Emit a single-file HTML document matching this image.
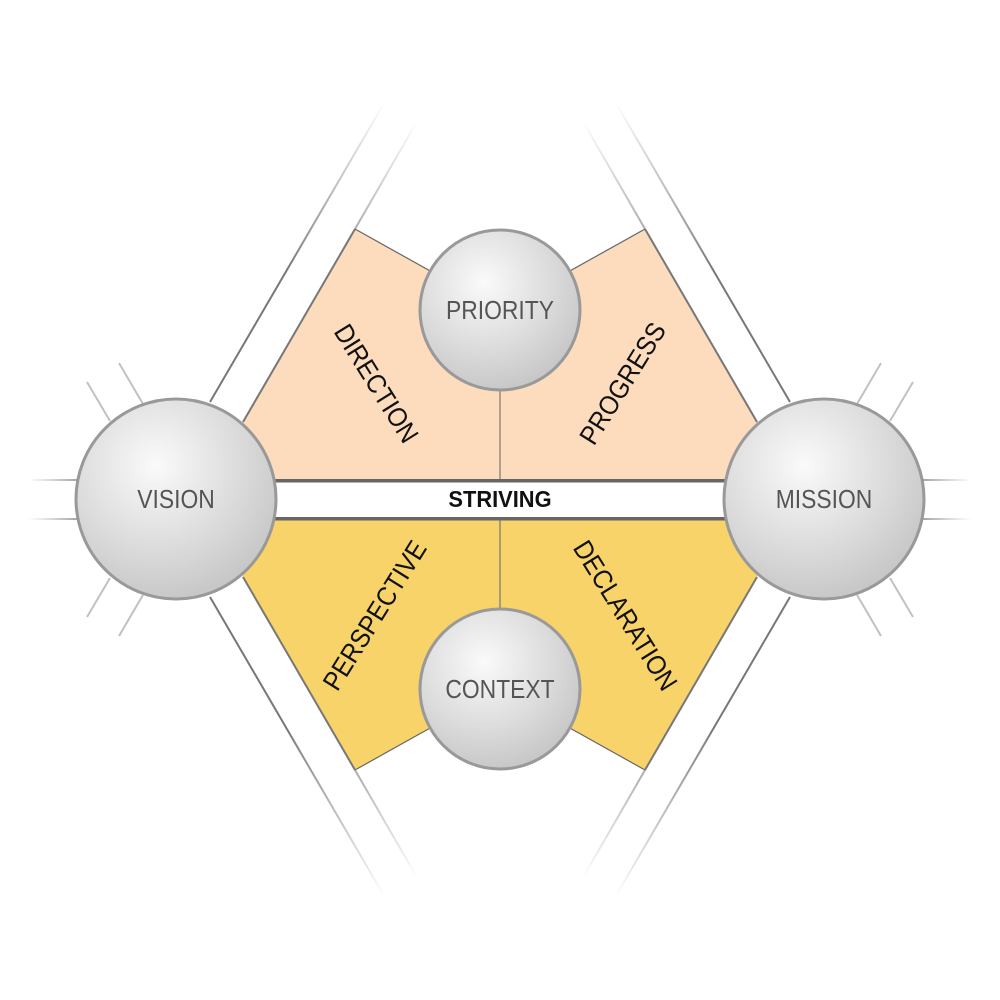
<!DOCTYPE html>
<html><head><meta charset="utf-8"><style>
html,body{margin:0;padding:0;background:#fff;}
svg{display:block}
text{font-family:"Liberation Sans",sans-serif;}
</style></head><body>
<svg width="1000" height="1000" viewBox="0 0 1000 1000" xmlns="http://www.w3.org/2000/svg">
<defs>
<radialGradient id="sph" cx="0.4" cy="0.33" r="0.75">
<stop offset="0" stop-color="#fafafa"/>
<stop offset="0.55" stop-color="#dcdcdc"/>
<stop offset="1" stop-color="#c2c2c2"/>
</radialGradient>
<linearGradient id="fadeTL" gradientUnits="userSpaceOnUse" x1="400" y1="110" x2="300" y2="280">
<stop offset="0" stop-color="#888" stop-opacity="0"/><stop offset="1" stop-color="#777"/></linearGradient>
<linearGradient id="fadeTR" gradientUnits="userSpaceOnUse" x1="600" y1="110" x2="700" y2="280">
<stop offset="0" stop-color="#888" stop-opacity="0"/><stop offset="1" stop-color="#777"/></linearGradient>
<linearGradient id="fadeBL" gradientUnits="userSpaceOnUse" x1="400" y1="890" x2="300" y2="720">
<stop offset="0" stop-color="#888" stop-opacity="0"/><stop offset="1" stop-color="#777"/></linearGradient>
<linearGradient id="fadeBR" gradientUnits="userSpaceOnUse" x1="600" y1="890" x2="700" y2="720">
<stop offset="0" stop-color="#888" stop-opacity="0"/><stop offset="1" stop-color="#777"/></linearGradient>
<linearGradient id="hl" gradientUnits="userSpaceOnUse" x1="28" y1="0" x2="78" y2="0">
<stop offset="0" stop-color="#aaa" stop-opacity="0"/><stop offset="1" stop-color="#999"/></linearGradient>
<linearGradient id="hr" gradientUnits="userSpaceOnUse" x1="972" y1="0" x2="922" y2="0">
<stop offset="0" stop-color="#aaa" stop-opacity="0"/><stop offset="1" stop-color="#999"/></linearGradient>
</defs>

<polygon points="355,229 430,270 500,300 570,270 645,229 757,420 757,481 243,481 243,420" fill="#FCDCBC"/>
<polygon points="355,770 430,728 500,700 570,728 645,770 757,578 757,518 243,518 243,578" fill="#F7D36A"/>

<g stroke="#666" stroke-width="1.2" fill="none">
<line x1="355" y1="229" x2="432" y2="272"/>
<line x1="645" y1="229" x2="568" y2="272"/>
<line x1="355" y1="770" x2="432" y2="727"/>
<line x1="645" y1="770" x2="568" y2="727"/>
</g>
<g stroke="#777" stroke-width="1.2">
<line x1="500" y1="390" x2="500" y2="481"/>
<line x1="500" y1="518" x2="500" y2="608"/>
</g>

<g stroke="#777" stroke-width="2">
<line x1="355" y1="229" x2="243" y2="422"/>
<line x1="645" y1="229" x2="757" y2="422"/>
<line x1="355" y1="770" x2="243" y2="577"/>
<line x1="645" y1="770" x2="757" y2="577"/>
</g>
<g stroke-width="2">
<line x1="415" y1="125" x2="355" y2="229" stroke="url(#fadeTL)"/>
<line x1="383" y1="105" x2="210" y2="402" stroke="url(#fadeTL)"/>
<line x1="585" y1="125" x2="645" y2="229" stroke="url(#fadeTR)"/>
<line x1="617" y1="105" x2="790" y2="402" stroke="url(#fadeTR)"/>
<line x1="415" y1="874" x2="355" y2="770" stroke="url(#fadeBL)"/>
<line x1="383" y1="894" x2="210" y2="597" stroke="url(#fadeBL)"/>
<line x1="585" y1="874" x2="645" y2="770" stroke="url(#fadeBR)"/>
<line x1="617" y1="894" x2="790" y2="597" stroke="url(#fadeBR)"/>
</g>

<g stroke="#bbb" stroke-width="2" opacity="0.9">
<line x1="28" y1="480" x2="78" y2="480" stroke="url(#hl)"/>
<line x1="28" y1="519" x2="78" y2="519" stroke="url(#hl)"/>
<line x1="972" y1="480" x2="922" y2="480" stroke="url(#hr)"/>
<line x1="972" y1="519" x2="922" y2="519" stroke="url(#hr)"/>
<line x1="87" y1="382" x2="110" y2="421"/>
<line x1="119" y1="363" x2="143" y2="404"/>
<line x1="87" y1="617" x2="110" y2="578"/>
<line x1="119" y1="636" x2="143" y2="595"/>
<line x1="913" y1="382" x2="890" y2="421"/>
<line x1="881" y1="363" x2="857" y2="404"/>
<line x1="913" y1="617" x2="890" y2="578"/>
<line x1="881" y1="636" x2="857" y2="595"/>
</g>

<rect x="243" y="482" width="514" height="35" fill="#fff"/>
<rect x="243" y="479" width="514" height="3.5" fill="#666"/>
<rect x="243" y="517" width="514" height="3.5" fill="#666"/>
<text x="0" y="0" text-anchor="middle" font-size="23" font-weight="bold" fill="#111" transform="translate(500 507) scale(0.95 1)">STRIVING</text>

<g stroke="#999" stroke-width="3" fill="url(#sph)">
<circle cx="176" cy="499" r="100"/>
<circle cx="824" cy="499" r="100"/>
<circle cx="500" cy="310" r="80"/>
<circle cx="500" cy="689" r="80"/>
</g>
<g fill="#555" font-size="26" text-anchor="middle">
<text x="0" y="0" transform="translate(176 508) scale(0.88 1)">VISION</text>
<text x="0" y="0" transform="translate(824 508) scale(0.88 1)">MISSION</text>
<text x="0" y="0" transform="translate(500 319) scale(0.88 1)">PRIORITY</text>
<text x="0" y="0" transform="translate(500 698) scale(0.88 1)">CONTEXT</text>
</g>

<g fill="#111" font-size="27" text-anchor="middle">
<text transform="translate(377 383) rotate(58) scale(0.9 1)" y="10">DIRECTION</text>
<text transform="translate(622 383) rotate(-58) scale(0.9 1)" y="10">PROGRESS</text>
<text transform="translate(374 615) rotate(-58) scale(0.9 1)" y="10">PERSPECTIVE</text>
<text transform="translate(626 615) rotate(58) scale(0.9 1)" y="10">DECLARATION</text>
</g>
</svg>
</body></html>
